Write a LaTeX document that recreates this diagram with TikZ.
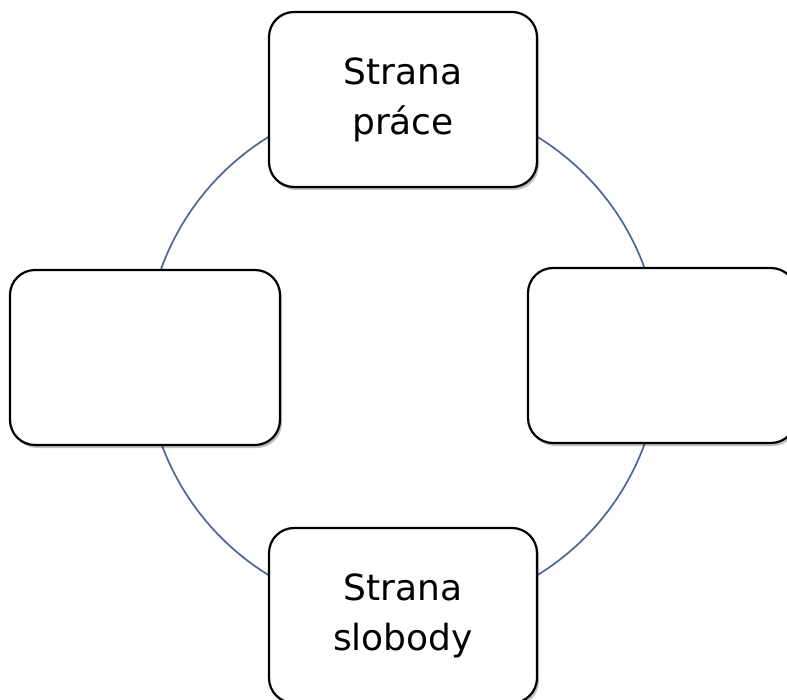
\documentclass[tikz,border=0pt]{standalone}
\usepackage{fontspec}
\setmainfont{DejaVu Sans}
\usetikzlibrary{shadows}
\definecolor{ringblue}{RGB}{74,104,150}
\tikzset{
  box/.style={draw=black, line width=2.2pt, fill=white, rounded corners=25pt,
    minimum width=268pt, minimum height=175pt, inner sep=0pt, align=center,
    font=\fontsize{36}{50}\selectfont,
    drop shadow={shadow xshift=2pt, shadow yshift=-3pt, opacity=0.25, fill=black}},
  ring/.style={draw=ringblue, line width=1.7pt}
}
\begin{document}
\begin{tikzpicture}[x=1pt,y=-1pt]
\useasboundingbox (0,0) rectangle (787,700);
\coordinate (c) at (403,356);
\draw[ring] (c) circle[radius=257pt];
\node[box] (top) at (403,99.5) {Strana\\práce};
\node[box] (bottom) at (403,615.5) {Strana\\slobody};
\node[box, minimum width=270pt] (left) at (145,357.5) {};
\node[box] (right) at (662,355.5) {};
\end{tikzpicture}
\end{document}
